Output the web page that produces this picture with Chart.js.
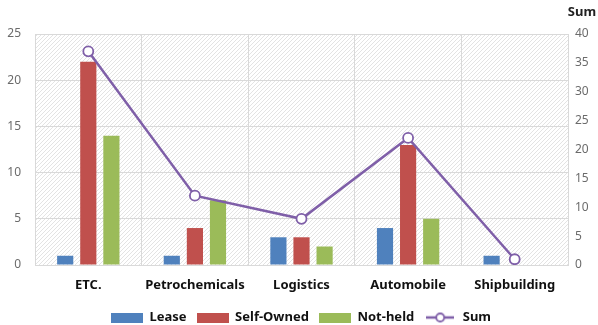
<!DOCTYPE html>
<html><head><meta charset="utf-8">
<script src="https://cdn.jsdelivr.net/npm/chart.js@4"></script>
<style>html,body{margin:0;padding:0;background:#fff}#wrap{width:598px;height:325px}</style>
</head><body><div id="wrap"><canvas id="c"></canvas></div>
<script>
const categories = ['ETC.', 'Petrochemicals', 'Logistics', 'Automobile', 'Shipbuilding'];
const lease = [1, 1, 3, 4, 1];
const selfOwned = [22, 4, 3, 13, 0];
const notHeld = [14, 7, 2, 5, 0];
const sum = [37, 12, 8, 22, 1];
const leftTicks = [0, 5, 10, 15, 20, 25];
const rightTicks = [0, 5, 10, 15, 20, 25, 30, 35, 40];

const C_BLUE = '#4F81BD', C_RED = '#C0504D', C_GREEN = '#9BBB59', C_PURPLE = '#7F5FA8';
const FONT = "'Noto Sans', 'Open Sans', sans-serif";

function boxImg(color) {
  const c = document.createElement('canvas'); c.width = 32; c.height = 10;
  const x = c.getContext('2d'); x.fillStyle = color; x.fillRect(0, 0, 32, 10); return c;
}
function lineImg(color) {
  const c = document.createElement('canvas'); c.width = 28; c.height = 12;
  const x = c.getContext('2d'); x.strokeStyle = color; x.lineWidth = 2.5;
  x.beginPath(); x.moveTo(0, 6); x.lineTo(28, 6); x.stroke();
  x.beginPath(); x.arc(14, 6, 4, 0, Math.PI * 2); x.fillStyle = '#fff'; x.fill(); x.lineWidth = 1.8; x.stroke();
  return c;
}
function hatch() {
  const c = document.createElement('canvas'); c.width = 4; c.height = 4;
  const x = c.getContext('2d'); x.fillStyle = '#ffffff'; x.fillRect(0, 0, 4, 4);
  x.strokeStyle = '#e3e3e3'; x.lineWidth = 1;
  x.beginPath(); x.moveTo(0, 4); x.lineTo(4, 0); x.stroke();
  x.beginPath(); x.moveTo(-1, 1); x.lineTo(1, -1); x.stroke();
  x.beginPath(); x.moveTo(3, 5); x.lineTo(5, 3); x.stroke();
  return x.createPattern(c, 'repeat');
}

const bgPlugin = {
  id: 'bg',
  beforeLayout(chart) {
    const lg = chart.legend;
    if (lg && !lg._patched) {
      const orig = lg.fit;
      lg.fit = function () { orig.call(this); this.height = 24; };
      lg._patched = true;
    }
  },
  beforeDraw(chart) {
    const { ctx, chartArea: a } = chart;
    ctx.save(); ctx.fillStyle = hatch(); ctx.fillRect(a.left, a.top, a.right - a.left, a.bottom - a.top); ctx.restore();
  },
  afterDraw(chart) {
    const { ctx } = chart; const y1 = chart.scales.y1;
    ctx.save(); ctx.font = "bold 13px " + FONT; ctx.fillStyle = '#222'; ctx.textAlign = 'center'; ctx.textBaseline = 'middle';
    ctx.fillText('Sum', y1.left + 14, 12); ctx.restore();
  }
};

new Chart(document.getElementById('c'), {
  type: 'bar',
  data: {
    labels: categories,
    datasets: [
      { label: 'Lease', data: lease, backgroundColor: C_BLUE, yAxisID: 'y', order: 1 },
      { label: 'Self-Owned', data: selfOwned, backgroundColor: C_RED, yAxisID: 'y', order: 1 },
      { label: 'Not-held', data: notHeld, backgroundColor: C_GREEN, yAxisID: 'y', order: 1 },
      { label: 'Sum', type: 'line', data: sum, borderColor: C_PURPLE, borderWidth: 2.5, pointRadius: 5, pointBorderWidth: 1.8,
        pointBackgroundColor: '#fff', pointBorderColor: C_PURPLE, yAxisID: 'y1', order: 0, tension: 0 }
    ]
  },
  options: {
    responsive: true, maintainAspectRatio: false, animation: false,
    layout: { padding: { top: 34, left: 4, right: 0, bottom: 0 } },
    datasets: { bar: { categoryPercentage: 0.65, barPercentage: 0.7 } },
    scales: {
      x: {
        afterFit(s) { s.height = 36; },
        grid: { color: '#d9d9d9', offset: true, drawTicks: false },
        border: { color: '#d9d9d9' },
        ticks: { color: '#111', font: { family: FONT, size: 13, weight: 'bold' }, padding: 12, maxRotation: 0, minRotation: 0, autoSkip: false }
      },
      y: {
        position: 'left', min: 0, max: 25,
        afterBuildTicks(s) { s.ticks = leftTicks.map(v => ({ value: v })); },
        afterFit(s) { s.width = 31; },
        grid: { color: '#d9d9d9', drawTicks: false },
        border: { color: '#d9d9d9' },
        ticks: { color: '#6b6b6b', font: { family: FONT, size: 12 }, padding: 14 }
      },
      y1: {
        position: 'right', min: 0, max: 40,
        afterBuildTicks(s) { s.ticks = rightTicks.map(v => ({ value: v })); },
        afterFit(s) { s.width = 30; },
        grid: { display: false, drawTicks: false },
        border: { color: '#d9d9d9' },
        ticks: { color: '#6b6b6b', font: { family: FONT, size: 12 }, padding: 7 }
      }
    },
    plugins: {
      tooltip: { enabled: false },
      legend: {
        position: 'bottom',
        labels: {
          usePointStyle: true, pointStyleWidth: 32, boxHeight: 10, padding: 10,
          font: { family: FONT, size: 13, weight: 'bold' }, color: '#111',
          sort: (a, b) => a.datasetIndex - b.datasetIndex,
          generateLabels(chart) {
            const imgs = [boxImg(C_BLUE), boxImg(C_RED), boxImg(C_GREEN), lineImg(C_PURPLE)];
            return chart.data.datasets.map((d, i) => ({
              text: d.label, datasetIndex: i, pointStyle: imgs[i], fillStyle: 'transparent', strokeStyle: 'transparent', lineWidth: 0, fontColor: '#111'
            }));
          }
        }
      }
    }
  },
  plugins: [bgPlugin]
});
</script></body></html>
